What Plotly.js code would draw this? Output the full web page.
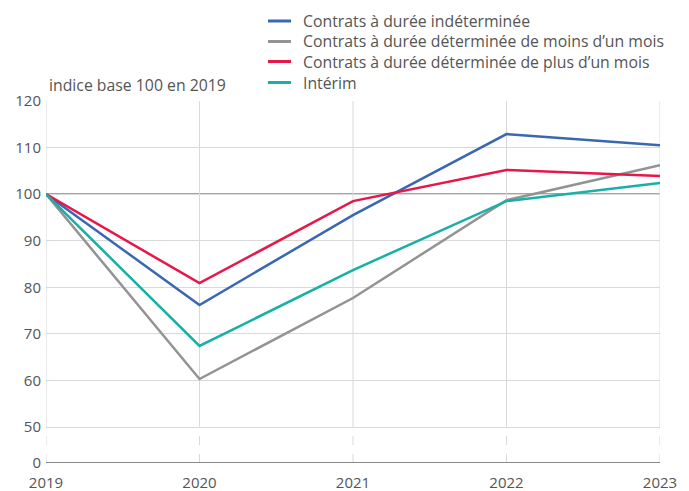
<!DOCTYPE html>
<html><head><meta charset="utf-8">
<script src="https://cdn.plot.ly/plotly-3.0.1.min.js"></script>
<style>body{margin:0;padding:0;background:#fff}#chart{width:689px;height:491px}</style>
</head><body><div id="chart"></div>
<script>
const years = [2019, 2020, 2021, 2022, 2023];
const cdi = [100, 76.2, 95.5, 112.9, 110.5];
const cddMoins = [100, 60.3, 77.7, 98.7, 106.2];
const cddPlus = [100, 80.9, 98.5, 105.2, 103.9];
const interim = [100, 67.4, 83.7, 98.5, 102.4];
const seriesNames = ["Contrats à durée indéterminée", "Contrats à durée déterminée de moins d’un mois", "Contrats à durée déterminée de plus d’un mois", "Intérim"];
const yTickLabels = ["0", "50", "60", "70", "80", "90", "100", "110", "120"];
const yTitle = "indice base 100 en 2019";

const BREAK = 42.27; // axis position where "0" is displayed (broken axis)
const yTickVals = [BREAK, 50, 60, 70, 80, 90, 100, 110, 120];
const colors = ["#3a67b1", "#939393", "#e8174a", "#17b0a6"];
const data = [cdi, cddMoins, cddPlus, interim].map((v, i) => ({
  x: years, y: v, type: "scatter", mode: "lines", name: seriesNames[i],
  line: {color: colors[i], width: 2.5}, hoverinfo: "skip", showlegend: false
}));

const shapes = [];
years.forEach(yr => {
  shapes.push({type: "line", xref: "x", yref: "y", x0: yr, x1: yr, y0: 50, y1: 120, line: {color: "#d9d9d9", width: 1}, layer: "between"});
  shapes.push({type: "line", xref: "x", yref: "y", x0: yr, x1: yr, y0: BREAK, y1: 50, line: {color: "#d9d9d9", width: 1, dash: "dash"}, layer: "between"});
});
shapes.push({type: "line", xref: "paper", yref: "y", x0: 0, x1: 1, y0: 100, y1: 100, line: {color: "#4a4a4a", width: 1.3}, layer: "between"});
shapes.push({type: "line", xref: "paper", yref: "y", x0: 0, x1: 1, y0: BREAK, y1: BREAK, line: {color: "#8a8a8a", width: 2}, layer: "above"});

// manual legend (paper coords relative to plot area)
const legendRowsY = [1.221, 1.1644, 1.1091, 1.0511];
const annotations = [{text: yTitle, xref: "paper", yref: "paper", x: 0.0016, y: 1.0442, xanchor: "left", yanchor: "middle", showarrow: false, font: {family: "Open Sans, sans-serif", size: 15.8, color: "#555555"}}];
seriesNames.forEach((n, i) => {
  shapes.push({type: "line", xref: "paper", yref: "paper", x0: 0.3616, x1: 0.399, y0: legendRowsY[i], y1: legendRowsY[i], line: {color: colors[i], width: 3}});
  annotations.push({text: n, xref: "paper", yref: "paper", x: 0.4153, y: legendRowsY[i], xanchor: "left", yanchor: "middle", showarrow: false, font: {family: "Open Sans, sans-serif", size: 15.8, color: "#555555"}});
});

const font = {family: "Open Sans, sans-serif", size: 15, color: "#555555"};
const layout = {
  width: 689, height: 491,
  margin: {l: 46, r: 29, t: 101, b: 28, autoexpand: false},
  paper_bgcolor: "#fff", plot_bgcolor: "#fff",
  font: font,
  showlegend: false,
  xaxis: {range: [2019, 2023], tickvals: years, showgrid: false, zeroline: false, showline: false, ticks: "", tickfont: font, ticklabelstandoff: 9, fixedrange: true},
  yaxis: {range: [BREAK, 120], tickvals: yTickVals, ticktext: yTickLabels, showgrid: true, gridcolor: "#d9d9d9", gridwidth: 1, zeroline: false, showline: false, ticks: "", tickfont: font, ticklabelstandoff: 4, fixedrange: true},
  shapes: shapes,
  annotations: annotations
};
Plotly.newPlot("chart", data, layout, {displayModeBar: false, staticPlot: true});
</script></body></html>
